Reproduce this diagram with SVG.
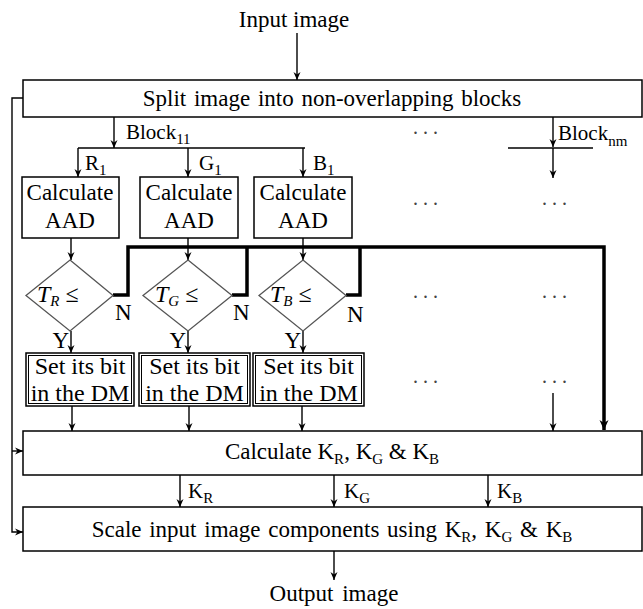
<svg xmlns="http://www.w3.org/2000/svg" width="643" height="609" viewBox="0 0 643 609">
<defs>
<style>
text{font-family:"Liberation Serif","Times New Roman",serif;fill:#000}
.t{font-size:23px}
.s{font-size:24px}
.c{text-anchor:middle}
.e{text-anchor:end}
.lb{font-size:21px}
.sub{font-size:15px}
.box{fill:#fff;stroke:#000;stroke-width:1.5}
.inner{fill:none;stroke:#000;stroke-width:1}
.dia{fill:#fff;stroke:#555;stroke-width:1.3}
.ln{fill:none;stroke:#000;stroke-width:1.4}
.thick{fill:none;stroke:#000;stroke-width:3.5}
.dots{font-size:20px;letter-spacing:5px;fill:#444}
.it{font-style:italic}
</style>
<marker id="a" markerUnits="userSpaceOnUse" viewBox="0 0 8 8" refX="8" refY="4" markerWidth="8" markerHeight="8" orient="auto"><path d="M0,0.5 L8,4 L0,7.5 L2.5,4 z" fill="#000"/></marker>
<marker id="ab" markerUnits="userSpaceOnUse" viewBox="0 0 10 10" refX="10" refY="5" markerWidth="10" markerHeight="10" orient="auto"><path d="M0,0.5 L10,5 L0,9.5 L3,5 z" fill="#000"/></marker>
</defs>
<rect width="643" height="609" fill="#fff"/>

<g id="connectors">
<path class="ln" d="M297,33 V80" marker-end="url(#a)"/>
<path class="ln" d="M23,98 H12 V532 H23" marker-end="url(#a)"/>
<path class="ln" d="M12,451 H23" marker-end="url(#a)"/>
<path class="ln" d="M114,117 V148" marker-end="url(#a)"/>
<path class="ln" d="M78,148 H305"/>
<path class="ln" d="M78,148 V177" marker-end="url(#a)"/>
<path class="ln" d="M188,148 V177" marker-end="url(#a)"/>
<path class="ln" d="M303,148 V177" marker-end="url(#a)"/>
<path class="ln" d="M553,117 V147" marker-end="url(#a)"/>
<path class="ln" d="M508,148 H593"/>
<path class="ln" d="M553,148 V178" marker-end="url(#a)"/>
<path class="ln" d="M71,238 V260" marker-end="url(#a)"/>
<path class="ln" d="M188,238 V260" marker-end="url(#a)"/>
<path class="ln" d="M303,238 V260" marker-end="url(#a)"/>
<path class="thick" d="M113,295 H128 V247 H604 V430" marker-end="url(#ab)"/>
<path class="thick" d="M232,295 H247 V247"/>
<path class="thick" d="M346,295 H360 V247"/>
<path class="ln" d="M71,331 V353" marker-end="url(#a)"/>
<path class="ln" d="M188,331 V353" marker-end="url(#a)"/>
<path class="ln" d="M303,331 V353" marker-end="url(#a)"/>
<path class="ln" d="M72,406 V431" marker-end="url(#a)"/>
<path class="ln" d="M189,406 V431" marker-end="url(#a)"/>
<path class="ln" d="M302,406 V431" marker-end="url(#a)"/>
<path class="ln" d="M553,393 V431" marker-end="url(#a)"/>
<path class="ln" d="M180,475 V507" marker-end="url(#a)"/>
<path class="ln" d="M334,475 V507" marker-end="url(#a)"/>
<path class="ln" d="M488,475 V507" marker-end="url(#a)"/>
<path class="ln" d="M334,551 V580" marker-end="url(#a)"/>
</g>

<g id="input"><text class="t c" x="294" y="27">Input image</text></g>

<g id="split">
<rect class="box" x="23" y="80" width="619" height="37"/>
<text class="t c" x="332" y="106" word-spacing="2">Split image into non-overlapping blocks</text>
</g>

<g id="labels-top">
<text class="lb" x="126" y="139">Block<tspan class="sub" dy="5">11</tspan></text>
<text class="lb" x="85" y="170">R<tspan class="sub" dy="5">1</tspan></text>
<text class="lb" x="199" y="170">G<tspan class="sub" dy="5">1</tspan></text>
<text class="lb" x="313" y="170">B<tspan class="sub" dy="5">1</tspan></text>
<text class="lb" x="558" y="140">Block<tspan class="sub" dy="6">nm</tspan></text>
<text class="dots c" x="428" y="134">...</text>
</g>

<g id="aad-r">
<rect class="box" x="22" y="177" width="97" height="61"/>
<text class="t c" x="70" y="200">Calculate</text>
<text class="t c" x="70" y="228">AAD</text>
</g>
<g id="aad-g">
<rect class="box" x="140" y="177" width="98" height="61"/>
<text class="t c" x="189" y="200">Calculate</text>
<text class="t c" x="189" y="228">AAD</text>
</g>
<g id="aad-b">
<rect class="box" x="254" y="177" width="98" height="61"/>
<text class="t c" x="303" y="200">Calculate</text>
<text class="t c" x="303" y="228">AAD</text>
</g>

<g id="dec-r">
<path class="dia" d="M70,260 L113,295.5 L70,331 L26,295.5 Z"/>
<text class="s" x="37" y="302"><tspan class="it">T</tspan><tspan class="it sub" dy="4">R</tspan><tspan dy="-4"> ≤</tspan></text>
<text class="t" x="115" y="320">N</text>
<text class="t e" x="69" y="348">Y</text>
</g>
<g id="dec-g">
<path class="dia" d="M188,260 L232,295.5 L188,331 L143,295.5 Z"/>
<text class="s" x="155" y="302"><tspan class="it">T</tspan><tspan class="it sub" dy="4">G</tspan><tspan dy="-4"> ≤</tspan></text>
<text class="t" x="233" y="320">N</text>
<text class="t e" x="186" y="348">Y</text>
</g>
<g id="dec-b">
<path class="dia" d="M303,260 L346,295.5 L303,331 L259,295.5 Z"/>
<text class="s" x="270" y="302"><tspan class="it">T</tspan><tspan class="it sub" dy="4">B</tspan><tspan dy="-4"> ≤</tspan></text>
<text class="t" x="347" y="322">N</text>
<text class="t e" x="301" y="348">Y</text>
</g>

<g id="set-r">
<rect class="box" x="26" y="353" width="108" height="53"/>
<rect class="inner" x="28.5" y="355.5" width="103" height="48"/>
<text class="s c" x="80" y="374">Set its bit</text>
<text class="s c" x="80" y="401">in the DM</text>
</g>
<g id="set-g">
<rect class="box" x="139" y="353" width="111" height="53"/>
<rect class="inner" x="141.5" y="355.5" width="106" height="48"/>
<text class="s c" x="194.5" y="374">Set its bit</text>
<text class="s c" x="194.5" y="401">in the DM</text>
</g>
<g id="set-b">
<rect class="box" x="253" y="353" width="111" height="53"/>
<rect class="inner" x="255.5" y="355.5" width="106" height="48"/>
<text class="s c" x="308.5" y="374">Set its bit</text>
<text class="s c" x="308.5" y="401">in the DM</text>
</g>

<g id="ellipses">
<text class="dots c" x="428" y="205">...</text>
<text class="dots c" x="557" y="205">...</text>
<text class="dots c" x="428" y="298">...</text>
<text class="dots c" x="557" y="298">...</text>
<text class="dots c" x="428" y="383">...</text>
<text class="dots c" x="557" y="383">...</text>
</g>

<g id="calck">
<rect class="box" x="23" y="431" width="619" height="44"/>
<text class="t c" x="332" y="459">Calculate K<tspan class="sub" dy="5">R</tspan><tspan dy="-5">, K</tspan><tspan class="sub" dy="5">G</tspan><tspan dy="-5"> &amp; K</tspan><tspan class="sub" dy="5">B</tspan></text>
</g>

<g id="k-labels">
<text class="lb" x="188" y="498">K<tspan class="sub" dy="5">R</tspan></text>
<text class="lb" x="344" y="498">K<tspan class="sub" dy="5">G</tspan></text>
<text class="lb" x="497" y="498">K<tspan class="sub" dy="5">B</tspan></text>
</g>

<g id="scale">
<rect class="box" x="23" y="507" width="619" height="44"/>
<text class="t c" x="332" y="537" word-spacing="2">Scale input image components using K<tspan class="sub" dy="5">R</tspan><tspan dy="-5">, K</tspan><tspan class="sub" dy="5">G</tspan><tspan dy="-5"> &amp; K</tspan><tspan class="sub" dy="5">B</tspan></text>
</g>

<g id="output"><text class="t c" x="334" y="601" word-spacing="3">Output image</text></g>
</svg>
